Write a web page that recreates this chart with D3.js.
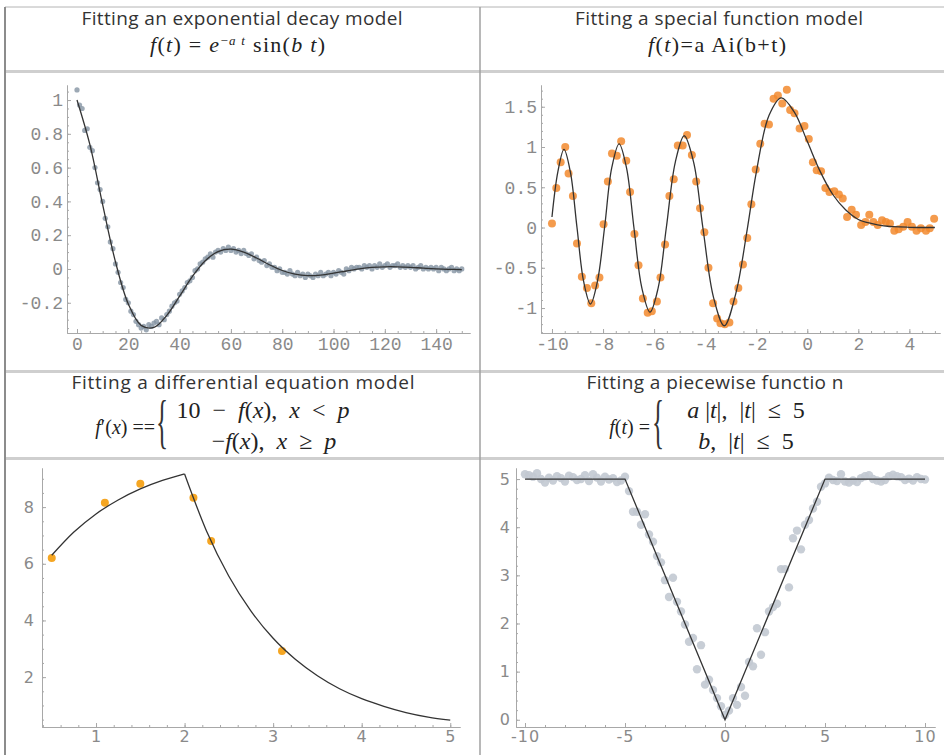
<!DOCTYPE html>
<html>
<head>
<meta charset="utf-8">
<script src="https://cdn.jsdelivr.net/npm/d3@7/dist/d3.min.js"></script>
<style>
    body { margin: 0; background: #fff; }
    .title { font-family: "Open Sans", sans-serif; font-size: 19px; fill: #333; }
    .math { font-family: "Liberation Serif", serif; font-size: 22px; fill: #222; }
    .axis path, .axis line { stroke: #a8a8a8; }
    .mono text { font-family: "Liberation Mono", monospace; font-size: 18px; fill: #8a8a8a; }
    .sans text { font-family: "DejaVu Sans", sans-serif; font-size: 16px; fill: #8a8a8a; letter-spacing: 1px; }
    .grid line { stroke: #c8c8c8; }
</style>
</head>
<body>
<svg id="chart" width="944" height="755"></svg>
<script>
// ---- data ----

// exponential decay: one sample per t = 0,1,...,150
const decayValues = [
    1.06, 0.97, 0.95, 0.82, 0.83, 0.72, 0.70, 0.60, 0.51, 0.47,
    0.40, 0.30, 0.25, 0.16, 0.12, 0.03, -0.02, -0.08, -0.11, -0.18,
    -0.20, -0.25, -0.27, -0.31, -0.33, -0.35, -0.34, -0.36, -0.33, -0.34,
    -0.32, -0.31, -0.33, -0.29, -0.30, -0.27, -0.25, -0.22, -0.20, -0.19,
    -0.15, -0.13, -0.11, -0.08, -0.07, -0.05, -0.01, 0.00, 0.03, 0.04,
    0.06, 0.07, 0.09, 0.07, 0.10, 0.11, 0.10, 0.12, 0.11, 0.13,
    0.11, 0.12, 0.10, 0.11, 0.09, 0.11, 0.09, 0.08, 0.09, 0.06,
    0.07, 0.05, 0.04, 0.05, 0.02, 0.03, 0.01, 0.01, -0.01, 0.00,
    -0.02, -0.02, -0.03, -0.01, -0.03, -0.04, -0.02, -0.04, -0.03, -0.05,
    -0.03, -0.04, -0.05, -0.03, -0.04, -0.02, -0.04, -0.03, -0.02, -0.04,
    -0.02, -0.03, -0.01, -0.02, -0.03, 0.00, -0.01, 0.01, 0.00, 0.01,
    0.01, 0.00, 0.02, 0.01, 0.02, 0.00, 0.02, 0.01, 0.03, 0.01,
    0.02, 0.03, 0.01, 0.02, 0.02, 0.03, 0.01, 0.02, 0.01, 0.02,
    0.01, 0.02, 0.00, 0.01, 0.02, 0.00, 0.01, 0.00, 0.01, 0.00,
    0.01, -0.01, 0.01, 0.00, -0.01, 0.00, 0.01, -0.01, 0.00, -0.01,
    0.00
];
const decayCurveT = [0, 5, 10, 15, 20, 25, 30, 35, 40, 45, 50, 55, 60, 65, 70, 75,
    80, 85, 90, 95, 100, 105, 110, 115, 120, 125, 130, 135, 140, 145, 150];
const decayCurveY = [1, 0.737, 0.381, 0.042, -0.207, -0.334, -0.346, -0.275, -0.161, -0.044,
    0.049, 0.103, 0.117, 0.100, 0.065, 0.025, -0.009, -0.031, -0.039, -0.036,
    -0.025, -0.012, 0.000, 0.009, 0.013, 0.013, 0.010, 0.005, 0.001, -0.002, -0.004];

// Airy function fit
const airyT = [-10, -9.83, -9.66, -9.48, -9.35, -9.18, -9.02, -8.83, -8.63, -8.46,
    -8.31, -8.14, -7.98, -7.81, -7.65, -7.46, -7.29, -7.09, -6.94, -6.77,
    -6.61, -6.44, -6.25, -6.09, -5.89, -5.75, -5.57, -5.40, -5.23, -5.07,
    -4.88, -4.71, -4.52, -4.35, -4.20, -4.03, -3.87, -3.69, -3.53, -3.40,
    -3.23, -3.05, -2.89, -2.70, -2.52, -2.35, -2.19, -2.02, -1.84, -1.67,
    -1.50, -1.32, -1.15, -0.98, -0.80, -0.67, -0.50, -0.30, -0.11, 0.06,
    0.22, 0.37, 0.54, 0.71, 0.87, 1.06, 1.24, 1.39, 1.56, 1.74,
    1.91, 2.11, 2.28, 2.43, 2.59, 2.76, 2.93, 3.08, 3.24, 3.41,
    3.58, 3.76, 3.93, 4.10, 4.28, 4.45, 4.65, 4.80, 4.97];
const airyY = [0.05, 0.49, 0.81, 1.0, 0.67, 0.39, -0.20, -0.61, -0.75, -0.94,
    -0.72, -0.62, 0.04, 0.57, 0.92, 0.89, 1.07, 0.83, 0.44, -0.08,
    -0.47, -0.88, -1.06, -1.04, -0.92, -0.62, -0.21, 0.39, 0.60, 1.02,
    1.02, 1.15, 0.90, 0.57, 0.24, -0.06, -0.50, -0.94, -1.13, -1.19,
    -1.20, -1.18, -0.92, -0.75, -0.46, -0.13, 0.29, 0.72, 1.04, 1.29,
    1.28, 1.60, 1.64, 1.54, 1.71, 1.46, 1.42, 1.23, 1.26, 1.10,
    0.81, 0.71, 0.70, 0.49, 0.44, 0.45, 0.41, 0.36, 0.13, 0.22,
    0.16, 0.03, 0.07, 0.16, 0.07, 0.03, 0.09, 0.07, 0.05, -0.04,
    -0.02, 0.01, 0.07, 0.01, -0.04, -0.01, -0.04, -0.01, 0.11];
const airyCurveT = [-10, -9.77, -9.53, -9.28, -9.02, -8.76, -8.49, -8.22, -7.94, -7.66,
    -7.37, -7.08, -6.79, -6.48, -6.16, -5.84, -5.52, -5.17, -4.82, -4.45,
    -4.09, -3.67, -3.25, -2.80, -2.34, -2.0, -1.5, -1.02, -0.5, 0,
    0.5, 1, 1.5, 2, 2.5, 3, 4, 5];
const airyCurveY = [0.13, 0.69, 0.97, 0.69, 0, -0.67, -0.95, -0.67, 0, 0.74,
    1.04, 0.74, 0, -0.75, -1.05, -0.75, 0, 0.81, 1.14, 0.81,
    0, -0.87, -1.22, -0.82, 0, 0.68, 1.39, 1.61, 1.43, 1.07,
    0.70, 0.41, 0.22, 0.10, 0.05, 0.02, 0.003, 0];

// differential equation fit
const diffX = [0.5, 1.1, 1.5, 2.1, 2.3, 3.1];
const diffY = [6.2, 8.15, 8.82, 8.33, 6.8, 2.92];
const diffCurveLeftX = [0.5, 0.75, 1.0, 1.25, 1.5, 1.75, 2.0];
const diffCurveLeftY = [6.30, 7.12, 7.76, 8.25, 8.64, 8.94, 9.17];
const diffCurveRightX = [2.0, 2.25, 2.5, 2.75, 3.0, 3.25, 3.5, 3.75, 4.0, 4.25, 4.5, 4.75, 5.0];
const diffCurveRightY = [9.17, 7.14, 5.56, 4.33, 3.37, 2.63, 2.05, 1.59, 1.24, 0.97, 0.75, 0.59, 0.48];

// piecewise fit: one sample per t = -10, -9.8, ..., 10
const pieceValues = [
    5.1, 5.08, 5.05, 5.12, 5.0, 4.93, 5.03, 4.97, 5.06, 5.02, 4.95, 5.07, 5.04,
    4.98, 5.0, 5.08, 4.96, 5.1, 5.03, 4.95, 5.05, 4.99, 5.02, 4.94, 4.97, 5.05,
    4.75, 4.32, 4.32, 4.05, 4.27, 3.85, 3.7, 3.4, 3.27, 2.9, 2.55, 2.95,
    2.45, 2.25, 1.98, 1.62, 1.7, 1.05, 1.55, 0.73, 0.83, 0.62, 0.45, 0.28,
    0.1,
    0.19, 0.45, 0.31, 0.68, 0.5, 1.2, 1.11, 1.9, 1.35, 1.82, 2.25, 2.34, 2.41,
    3.13, 3.13, 2.75, 3.77, 3.93, 3.54, 4.05, 4.15, 4.39, 4.53, 4.84, 4.91,
    5.03, 4.98, 4.96, 5.1, 4.95, 4.93, 4.97, 4.94, 5.02, 5.06, 5.08, 5.0, 4.97,
    4.95, 4.98, 5.06, 5.09, 5.06, 5.04, 4.98, 5.01, 4.97, 5.04, 5.0, 4.99
];
const pieceCurveT = [-10, -5, 0, 5, 10];
const pieceCurveY = [5, 5, 0, 5, 5];

// tick labels
const decayXTicks = [0, 20, 40, 60, 80, 100, 120, 140];
const decayYTicks = [-0.2, 0, 0.2, 0.4, 0.6, 0.8, 1];
const airyXTicks = [-10, -8, -6, -4, -2, 0, 2, 4];
const airyYTicks = [-1, -0.5, 0, 0.5, 1, 1.5];
const diffXTicks = [1, 2, 3, 4, 5];
const diffYTicks = [2, 4, 6, 8];
const pieceXTicks = [-10, -5, 0, 5, 10];
const pieceYTicks = [0, 1, 2, 3, 4, 5];

const svg = d3.select("#chart");

// ---- table frame ----
const grid = svg.append("g").attr("class", "grid");
[[5, 7, 944, 7, "#b4b4b4", 1],
 [5, 71.5, 944, 71.5, "#cfcfcf", 3],
 [5, 371.5, 944, 371.5, "#cfcfcf", 3],
 [5, 458.5, 944, 458.5, "#cfcfcf", 3],
 [5, 7, 5, 755, "#8c8c8c", 2],
 [480, 7, 480, 755, "#a0a0a0", 1.5]
].forEach(l => grid.append("line")
    .attr("x1", l[0]).attr("y1", l[1]).attr("x2", l[2]).attr("y2", l[3])
    .style("stroke", l[4]).style("stroke-width", l[5]));

// ---- headers ----
const EN = "\u2002";

// parts: [text, italic, dy, fontSize]
function formula(x, y, parts, anchor, width, size) {
    const t = svg.append("text").attr("class", "math")
        .attr("x", x).attr("y", y)
        .attr("text-anchor", anchor || "start");
    if (width) t.attr("textLength", width).attr("lengthAdjust", "spacing");
    if (size) t.style("font-size", size + "px");
    parts.forEach(p => {
        const s = t.append("tspan").text(p[0]);
        if (p[1]) s.style("font-style", "italic");
        if (p[2]) s.attr("dy", p[2]);
        if (p[3]) s.style("font-size", p[3] + "px");
    });
    return t;
}

function brace(x, yMid) {
    svg.append("text").attr("class", "math")
        .attr("transform", `translate(${x},${yMid}) scale(0.6,1.4)`)
        .attr("y", 9)
        .style("font-size", "42px")
        .style("fill", "#333")
        .text("{");
}

const titles = [
    ["Fitting an exponential decay model", 242, 25, 321],
    ["Fitting a special function model", 719, 25, 288],
    ["Fitting a differential equation model", 243, 389, 343],
    ["Fitting a piecewise functio n", 715, 389, 257]
];
titles.forEach(d => svg.append("text").attr("class", "title")
    .attr("x", d[1]).attr("y", d[2]).attr("text-anchor", "middle")
    .attr("textLength", d[3]).attr("lengthAdjust", "spacing")
    .text(d[0]));

formula(150, 52, [["f", 1], ["("], ["t", 1], [") = "], ["e", 1],
    ["\u2212", 0, -7, 13], ["a t", 1, 0, 13], [" sin(", 0, 7], ["b t", 1], [")"]], "start", 175);
formula(648, 52, [["f", 1], ["("], ["t", 1], [")=a Ai(b+t)"]], "start", 138);

formula(155, 434, [["f", 1], ["\u2032("], ["x", 1], [") =="]], "end", null, 20);
brace(156, 428);
formula(263, 418, [["10" + EN + "\u2212" + EN], ["f", 1], ["("], ["x", 1], [")," + EN], ["x", 1],
    [EN + "<" + EN], ["p", 1]], "middle", null, 24);
formula(274, 449, [["\u2212"], ["f", 1], ["("], ["x", 1], [")," + EN], ["x", 1],
    [EN + "\u2265" + EN], ["p", 1]], "middle", null, 24);

formula(650, 434, [["f", 1], ["("], ["t", 1], [") ="]], "end", null, 20);
brace(652, 428);
formula(746, 418, [["a", 1], [" |"], ["t", 1], ["|," + EN + "|"], ["t", 1], ["|" + EN + "\u2264" + EN + "5"]], "middle", null, 24);
formula(746, 449, [["b", 1], ["," + EN + "|"], ["t", 1], ["|" + EN + "\u2264" + EN + "5"]], "middle", null, 24);

// ---- axes helper ----
function axes(x, y, o) {
    const x0 = x.range()[0];
    const y0 = y.range()[0];
    const g = svg.append("g").attr("class", "axis " + o.font);
    g.append("g")
        .attr("transform", `translate(0,${y0})`)
        .call(d3.axisBottom(x).tickValues(o.xMinor).tickSizeInner(-2).tickSizeOuter(0).tickFormat(""));
    g.append("g")
        .attr("transform", `translate(0,${y0})`)
        .call(d3.axisBottom(x).tickValues(o.xTicks).tickSizeInner(-4).tickSizeOuter(0)
            .tickPadding(o.xPad).tickFormat(d => String(d)));
    g.append("g")
        .attr("transform", `translate(${x0},0)`)
        .call(d3.axisLeft(y).tickValues(o.yMinor).tickSizeInner(-2).tickSizeOuter(0).tickFormat(""));
    g.append("g")
        .attr("transform", `translate(${x0},0)`)
        .call(d3.axisLeft(y).tickValues(o.yTicks).tickSizeInner(-4).tickSizeOuter(0)
            .tickPadding(o.yPad).tickFormat(d => String(d)));
}

function dots(x, y, xs, ys, r, color, opacity) {
    svg.append("g").selectAll("circle")
        .data(ys.map((v, i) => [xs[i], v]))
        .join("circle")
        .attr("cx", d => x(d[0]))
        .attr("cy", d => y(d[1]))
        .attr("r", r)
        .style("fill", color)
        .style("fill-opacity", opacity);
}

function curve(x, y, xs, ys, interp) {
    svg.append("path")
        .datum(ys.map((v, i) => [xs[i], v]))
        .attr("d", d3.line().x(d => x(d[0])).y(d => y(d[1])).curve(interp))
        .style("fill", "none")
        .style("stroke", "#333")
        .style("stroke-width", 1.3);
}

// ---- panel 1: exponential decay ----
{
    const x = d3.scaleLinear([-3.9, 153.2], [67, 470]);
    const y = d3.scaleLinear([-0.379, 1.089], [333, 85]);
    axes(x, y, {
        font: "mono", xTicks: decayXTicks, yTicks: decayYTicks,
        xMinor: d3.range(0, 151, 5), yMinor: d3.range(-0.35, 1.06, 0.05),
        xPad: 4, yPad: 4
    });
    const t = decayValues.map((v, i) => i);
    dots(x, y, t, decayValues, 2.6, "#8494a3", 0.8);
    curve(x, y, decayCurveT, decayCurveY, d3.curveCatmullRom);
}

// ---- panel 2: Airy function ----
{
    const x = d3.scaleLinear([-10.43, 5.2], [541, 940]);
    const y = d3.scaleLinear([-1.31, 1.77], [333, 85]);
    axes(x, y, {
        font: "mono", xTicks: airyXTicks, yTicks: airyYTicks,
        xMinor: d3.range(-10, 5.1, 0.5), yMinor: d3.range(-1.3, 1.75, 0.1),
        xPad: 4, yPad: 4
    });
    dots(x, y, airyT, airyY, 4, "#f28a2e", 0.85);
    curve(x, y, airyCurveT, airyCurveY, d3.curveCatmullRom);
}

// ---- panel 3: differential equation ----
{
    const x = d3.scaleLinear([0.39, 5.11], [42, 460]);
    const y = d3.scaleLinear([0.24, 9.38], [727, 468]);
    axes(x, y, {
        font: "sans", xTicks: diffXTicks, yTicks: diffYTicks,
        xMinor: d3.range(0.4, 5.1, 0.2), yMinor: d3.range(0.5, 9.3, 0.5),
        xPad: 4, yPad: 7
    });
    dots(x, y, diffX, diffY, 4, "#f5a623", 1);
    curve(x, y, diffCurveLeftX, diffCurveLeftY, d3.curveMonotoneX);
    curve(x, y, diffCurveRightX, diffCurveRightY, d3.curveMonotoneX);
}

// ---- panel 4: piecewise ----
{
    const x = d3.scaleLinear([-10.45, 10.5], [516, 935]);
    const y = d3.scaleLinear([-0.15, 5.23], [727, 468]);
    axes(x, y, {
        font: "sans", xTicks: pieceXTicks, yTicks: pieceYTicks,
        xMinor: d3.range(-10, 10.1, 1), yMinor: d3.range(0, 5.1, 0.2),
        xPad: 4, yPad: 5
    });
    const t = pieceValues.map((v, i) => -10 + i * 0.2);
    dots(x, y, t, pieceValues, 4.2, "#c2c9d1", 0.9);
    curve(x, y, pieceCurveT, pieceCurveY, d3.curveLinear);
}
</script>
</body>
</html>
